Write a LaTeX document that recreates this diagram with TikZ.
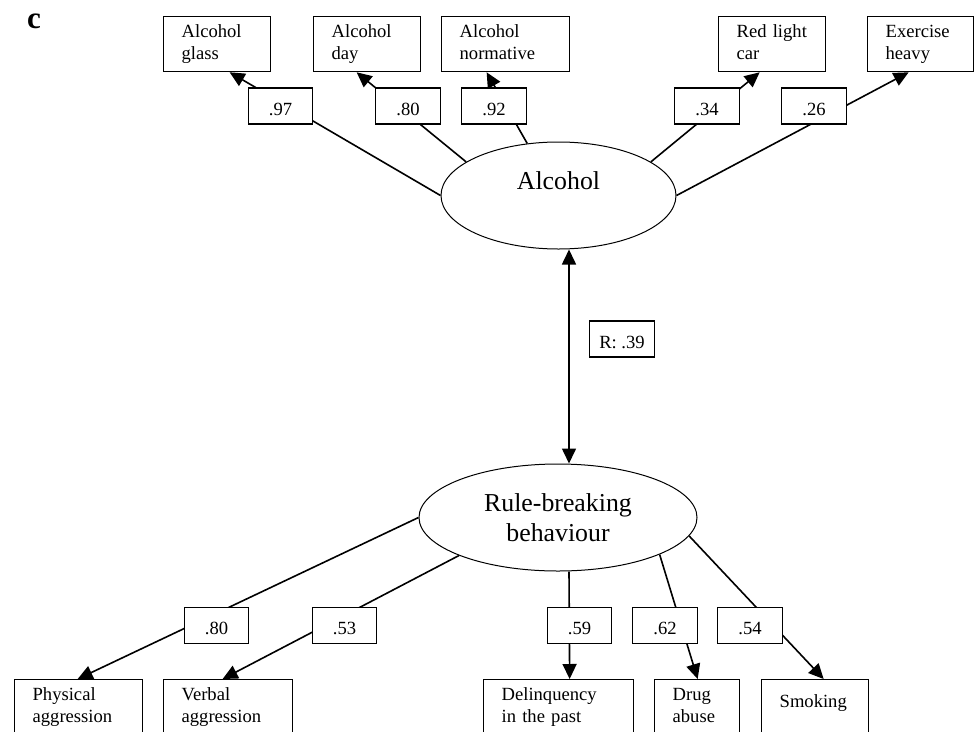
\documentclass[tikz,border=0pt]{standalone}
\usepackage{fontspec}
\setmainfont{Liberation Serif}
\usetikzlibrary{arrows.meta,shapes.geometric}
\newcommand\itemsize{\fontsize{18.6}{22}\selectfont}
\newcommand\factorsize{\fontsize{25.8}{30}\selectfont}
\tikzset{
  indicator/.style={draw, line width=1.3pt, anchor=north west, minimum height=55pt,
    inner xsep=18pt, inner ysep=0pt, text width=#1, align=left, font=\itemsize,
    execute at end node=\vphantom{g}},
  loading/.style={draw, line width=1.3pt, fill=white, minimum width=64.5pt,
    minimum height=36pt, inner sep=0pt, text height=18pt, text depth=0pt, font=\itemsize},
  factor/.style={draw, ellipse, line width=1pt, inner sep=0pt, align=center, font=\factorsize},
  effect/.style={line width=1.6pt, -{Triangle[length=15pt, width=14pt]}},
}

\begin{document}
\begin{tikzpicture}[x=1pt, y=-1pt]
  \useasboundingbox (0,0) rectangle (974,731);
  \clip (0,0) rectangle (974,731);
  \node[anchor=base west, inner sep=0pt, font=\fontsize{31}{36}\selectfont\bfseries] (panel) at (27,28) {c};
  % alcohol items
  \node[indicator=71pt] (glass) at (163,16) {Alcohol\\glass};
  \node[indicator=71pt] (day) at (313,16) {Alcohol\\day};
  \node[indicator=92pt] (normative) at (441,16) {Alcohol\\normative};
  \node[indicator=71pt] (redlight) at (718,16) {Red light\\car};
  \node[indicator=70pt] (heavy) at (867,16) {Exercise\\heavy};
  % rule-breaking items
  \node[indicator=92pt] (physical) at (14,679) {Physical\\aggression};
  \node[indicator=93pt] (verbal) at (163,679) {Verbal\\aggression};
  \node[indicator=114pt] (delinq) at (483,679) {Delinquency\\in the past};
  \node[indicator=49pt] (drug) at (654,679) {Drug\\abuse};
  \node[indicator=71pt, text depth=13pt] (smoking) at (761,679) {Smoking};
  % factors
  \node[factor, minimum width=235pt, minimum height=107pt, text depth=29pt] (alcohol) at (558.5,195.5) {Alcohol};
  \node[factor, minimum width=278pt, minimum height=107pt] (rule) at (558,517.5) {Rule-breaking\\behaviour};
  % paths
  \draw[effect] (alcohol.west) -- ([xshift=12.5pt]glass.south);
  \draw[effect] (alcohol.160) -- ([xshift=-10.5pt]day.south);
  \draw[effect] (alcohol.121) -- ([xshift=-19pt]normative.south);
  \draw[effect] (alcohol.20) -- ([xshift=-12.5pt]redlight.south);
  \draw[effect] (alcohol.east) -- ([xshift=-12pt]heavy.south);
  \draw[effect] (rule.west) -- ([xshift=-1pt]physical.north);
  \draw[effect] (rule.201) -- ([xshift=-5.5pt]verbal.north);
  \draw[effect] ([xshift=11pt]rule.south) -- ([xshift=11pt]delinq.north);
  \draw[effect] (rule.-20.5) -- ([xshift=0.5pt]drug.north);
  \draw[effect] (rule.-8) -- ([xshift=8.5pt]smoking.north);
  \draw[effect, {Triangle[length=15pt, width=14pt]}-{Triangle[length=15pt, width=14pt]}]
    ([xshift=10.5pt]alcohol.south) -- ([xshift=11pt]rule.north);
  % loadings
  \node[loading] (w97) at (280.5,106) {.97};
  \node[loading] (w80) at (408,106) {.80};
  \node[loading] (w92) at (494,106) {.92};
  \node[loading] (w34) at (707,106) {.34};
  \node[loading] (w26) at (814,106) {.26};
  \node[loading] (corr) at (622,339) {R: .39};
  \node[loading] (b80) at (216.5,625.5) {.80};
  \node[loading] (b53) at (344.5,625.5) {.53};
  \node[loading] (b59) at (579.5,625.5) {.59};
  \node[loading] (b62) at (665,625.5) {.62};
  \node[loading] (b54) at (750,625.5) {.54};
\end{tikzpicture}
\end{document}
